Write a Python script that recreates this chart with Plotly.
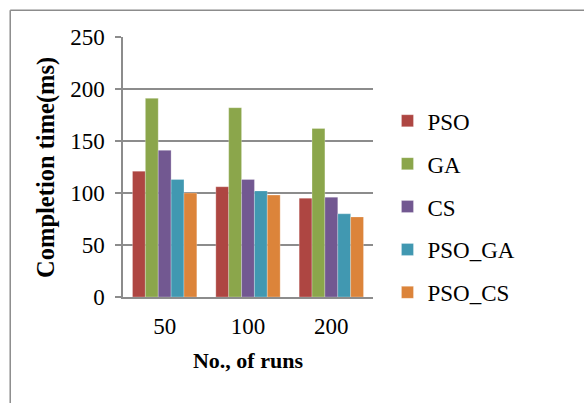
import plotly.graph_objects as go

categories = ["50", "100", "200"]
series_names = ["PSO", "GA", "CS", "PSO_GA", "PSO_CS"]
pso = [121, 106, 95]
ga = [191, 182, 162]
cs = [141, 113, 96]
pso_ga = [113, 102, 80]
pso_cs = [100, 98, 77]
y_ticks = [0, 50, 100, 150, 200, 250]

values = [pso, ga, cs, pso_ga, pso_cs]
colors = ["#AE4642", "#8BA64B", "#725891", "#4198B1", "#DC843A"]

W, H = 584, 403
L, R, T, B = 123, 210.5, 36.7, 106.3
pw = W - L - R
ph = H - T - B

fig = go.Figure()
for i, (name, vals) in enumerate(zip(series_names, values)):
    fig.add_trace(go.Bar(
        x=categories, y=vals, name=name,
        marker=dict(color=colors[i], line=dict(color="rgba(255,255,255,0.5)", width=0.5)),
        legendgroup=name,
    ))

def px_x(p):
    return (p - L) / pw

def px_y(p):
    return (H - B - p) / ph

fig.add_shape(type="line", xref="paper", yref="paper",
              x0=px_x(10), x1=px_x(600), y0=px_y(10), y1=px_y(10),
              line=dict(color="#8c8c8c", width=1.5))
fig.add_shape(type="line", xref="paper", yref="paper",
              x0=px_x(10), x1=px_x(10), y0=px_y(10), y1=px_y(420),
              line=dict(color="#8c8c8c", width=1.5))

font_family = "Liberation Serif, Times New Roman, serif"

fig.add_annotation(
    text="<b>Completion time(ms)</b>", textangle=-90,
    xref="paper", yref="paper", x=px_x(62), y=px_y(167.5),
    xanchor="right", yanchor="middle", showarrow=False,
    font=dict(family=font_family, size=24.5, color="black"),
)

fig.update_layout(
    width=W, height=H,
    margin=dict(l=L, r=R, t=T, b=B, pad=0),
    paper_bgcolor="white", plot_bgcolor="white",
    barmode="group", bargap=0.228, bargroupgap=0,
    font=dict(family=font_family, size=23, color="black"),
    showlegend=True,
    legend=dict(
        x=px_x(388), y=px_y(99), xanchor="left", yanchor="top",
        font=dict(family=font_family, size=23, color="black"),
        tracegroupgap=10, itemwidth=30,
        bgcolor="rgba(0,0,0,0)",
    ),
    xaxis=dict(
        showline=True, linecolor="#8c8c8c", linewidth=1.5,
        ticks="", showgrid=False,
        tickfont=dict(family=font_family, size=23),
        ticklabelstandoff=8,
        title=dict(text="<b>No., of runs</b>", font=dict(family=font_family, size=22), standoff=14),
    ),
    yaxis=dict(
        range=[0, 250], tickvals=y_ticks,
        showline=True, linecolor="#8c8c8c", linewidth=1.5,
        ticks="outside", ticklen=6, tickcolor="#8c8c8c", tickwidth=1.5,
        showgrid=True, gridcolor="#8c8c8c", gridwidth=1.5,
        zeroline=False,
        tickfont=dict(family=font_family, size=23),
        ticklabelstandoff=6,
    ),
)

fig.write_html("out.html", config={"displayModeBar": False},
               post_script="document.body.style.margin='0';")
